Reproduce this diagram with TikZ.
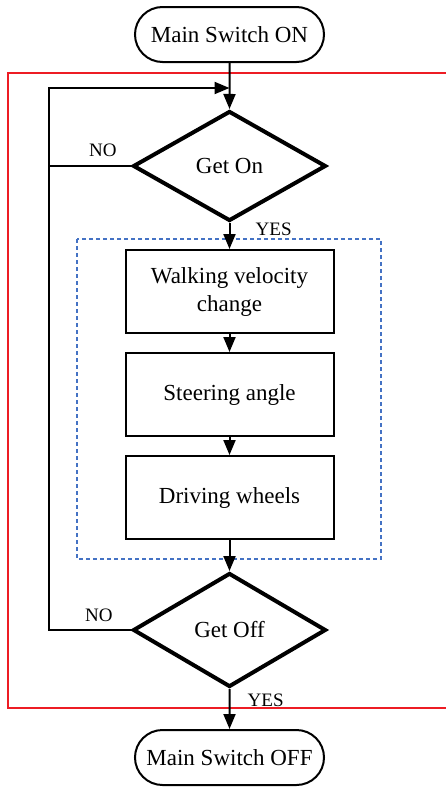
\documentclass[tikz,border=0pt]{standalone}
\usepackage{fontspec}
\setmainfont{Liberation Serif}
\usetikzlibrary{positioning,shapes.geometric,shapes.misc,arrows.meta}

\definecolor{loopred}{RGB}{237,28,36}
\definecolor{groupblue}{RGB}{68,114,196}

\begin{document}
\begin{tikzpicture}[x=1pt, y=1pt, node distance=18pt, >={Triangle[length=15pt,width=12pt]},
  terminal/.style={rounded rectangle, draw, line width=2pt, minimum width=193pt, minimum height=55pt, inner sep=2pt},
  decision/.style={diamond, draw, line width=4pt, aspect=1.77, minimum width=193pt, minimum height=110pt, inner sep=2pt},
  block/.style={rectangle, draw, line width=2pt, minimum width=208pt, minimum height=83pt, align=center},
  line/.style={draw, line width=2pt},
  lbl/.style={inner sep=0pt, font=\fontsize{19}{22}\selectfont},
  font=\fontsize{23}{28}\selectfont]

  \useasboundingbox (0,0) rectangle (446,-787);

  % Nodes
  \node[terminal] (start) at (229.5,-34.5) {Main Switch ON};
  \node[decision] (geton) [below=46pt of start] {Get On};
  \node[block] (walk) [below=26pt of geton] {Walking velocity\\change};
  \node[block] (steer) [below=of walk] {Steering angle};
  \node[block] (drive) [below=of steer] {Driving wheels};
  \node[decision, minimum height=114pt] (getoff) [below=31pt of drive] {Get Off};
  \node[terminal] (stop) [below=40pt of getoff] {Main Switch OFF};

  % Frames
  \draw[loopred, line width=2pt] (8,-73) rectangle (470,-708);
  \draw[groupblue, line width=2pt, dash pattern=on 4pt off 3pt] (77,-239) rectangle (381,-559);

  % Loop corner
  \coordinate (corner) at (49,-88);
  \coordinate (merge) at (229.5,-88);

  % Paths / Edges
  \draw[line, ->] (start) -- (geton);
  \draw[line, ->] (geton) -- (walk);
  \draw[line, ->] (walk) -- (steer);
  \draw[line, ->] (steer) -- (drive);
  \draw[line, ->] (drive) -- (getoff);
  \draw[line, ->] (getoff) -- (stop);
  \draw[line, ->] (getoff.west) -| (corner) -- (merge);
  \draw[line] (geton.west) -- (geton.west -| corner);

  % Labels
  \node[lbl, anchor=base west] (yeson) at ([xshift=26pt, yshift=-12pt]geton.south) {YES};
  \node[lbl, anchor=base west] (noon) at ([xshift=-42pt, yshift=10pt]geton.west) {NO};
  \node[lbl, anchor=base west] (yesoff) at ([xshift=18pt, yshift=-17pt]getoff.south) {YES};
  \node[lbl, anchor=base west] (nooff) at ([xshift=-46pt, yshift=9pt]getoff.west) {NO};
\end{tikzpicture}
\end{document}
